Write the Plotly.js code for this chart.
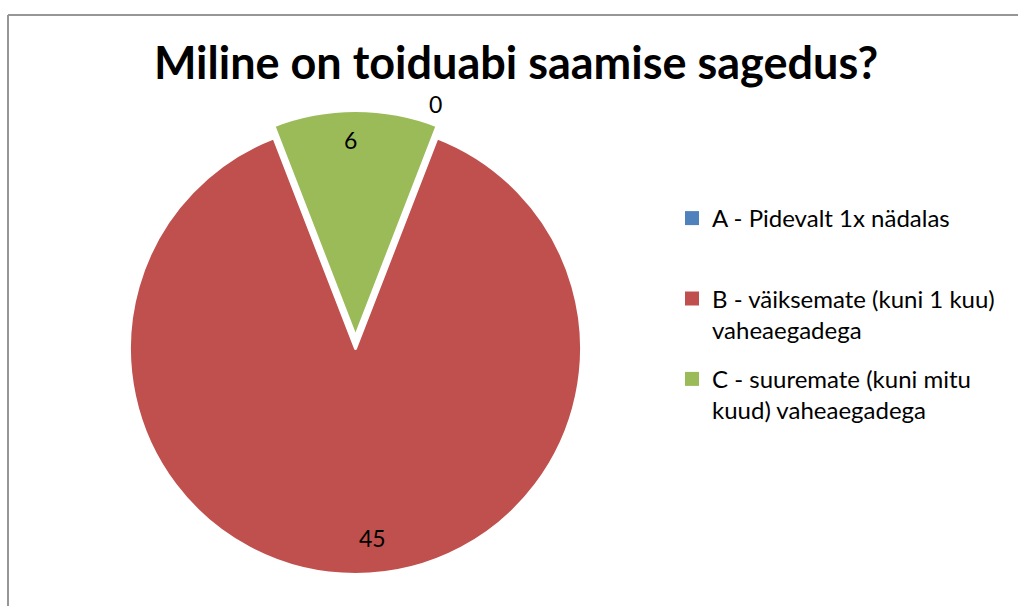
<!DOCTYPE html>
<html>
<head>
<meta charset="utf-8">
<script src="https://cdn.plot.ly/plotly-3.0.1.min.js"></script>
<style>
html,body{margin:0;padding:0;background:#fff;}
#chart{width:1018px;height:606px;}
</style>
</head>
<body>
<div id="chart"></div>
<script>
var titleText = "Miline on toiduabi saamise sagedus?";
var categories = [
  "A - Pidevalt 1x nädalas",
  "B - väiksemate (kuni 1 kuu) vaheaegadega",
  "C - suuremate (kuni mitu kuud) vaheaegadega"
];
var legendLabels = [
  "A - Pidevalt 1x nädalas<br> ",
  "B - väiksemate (kuni 1 kuu)<br>vaheaegadega",
  "C - suuremate (kuni mitu<br>kuud) vaheaegadega"
];
var values = [0, 45, 6];
var colors = ["#4F81BD", "#C0504D", "#9BBB59"];

// ---- geometry / style (not data) ----
var W = 1018, H = 606;
var cx = 355.5, cy = 348.5, R = 226;
var pulls = [0, 0, 0.053];
var labelRadius = [1.14, 0.84, 0.87];
var labelAngleNudge = [-3, -5, -1.5];
var FONT = "Lato, sans-serif";

var total = values.reduce(function(a, b) { return a + b; }, 0);
var startRotation = (values[2] / total) * 360 / 2;
var maxPull = Math.max.apply(null, pulls);
var half = R * (1 + maxPull);

var pieTrace = {
  type: "pie",
  labels: categories,
  values: values,
  sort: false,
  direction: "clockwise",
  rotation: startRotation,
  pull: pulls,
  marker: {colors: colors, line: {color: "#ffffff", width: 3}},
  textinfo: "none",
  automargin: false,
  showlegend: false,
  hoverinfo: "label+value",
  domain: {
    x: [(cx - half) / W, (cx + half) / W],
    y: [(H - cy - half) / H, (H - cy + half) / H]
  }
};

// legend entries, one per category
var legendTraces = categories.map(function(c, i) {
  return {
    type: "scatter", mode: "markers",
    x: [null], y: [null],
    name: legendLabels[i],
    legendgroup: "g" + i,
    marker: {symbol: "square", size: 14, color: colors[i]},
    hoverinfo: "skip"
  };
});

// data labels placed from the slice angles
var annotations = [];
var cum = 0;
for (var i = 0; i < values.length; i++) {
  var startA = startRotation + cum / total * 360;
  var midA = startA + values[i] / total * 180 + labelAngleNudge[i];
  cum += values[i];
  var rad = midA * Math.PI / 180;
  var pullShift = pulls[i] * R;
  var midRad = (startA + values[i] / total * 180) * Math.PI / 180;
  var ccx = cx + pullShift * Math.sin(midRad);
  var ccy = cy - pullShift * Math.cos(midRad);
  var px = ccx + labelRadius[i] * R * Math.sin(rad);
  var py = ccy - labelRadius[i] * R * Math.cos(rad);
  annotations.push({
    xref: "paper", yref: "paper",
    x: px / W, y: 1 - py / H,
    xanchor: "center", yanchor: "middle",
    text: String(values[i]),
    showarrow: false,
    font: {family: FONT, size: 23, color: "#000000"}
  });
}

var layout = {
  width: W, height: H,
  margin: {l: 0, r: 0, t: 0, b: 0},
  paper_bgcolor: "#ffffff",
  plot_bgcolor: "#ffffff",
  xaxis: {visible: false, range: [0, 1]},
  yaxis: {visible: false, range: [0, 1]},
  title: {
    text: "<b>" + titleText + "</b>",
    font: {family: FONT, size: 45, color: "#000000"},
    x: 516 / W, xanchor: "center",
    y: 1 - 63 / H, yanchor: "middle",
    xref: "paper", yref: "paper"
  },
  showlegend: true,
  legend: {
    x: 672 / W, xanchor: "left",
    y: 1 - 196 / H, yanchor: "top",
    valign: "top",
    traceorder: "grouped",
    tracegroupgap: 15,
    font: {family: FONT, size: 24, color: "#000000"},
    bgcolor: "rgba(0,0,0,0)",
    itemclick: false
  },
  annotations: annotations,
  shapes: [
    {type: "line", xref: "paper", yref: "paper",
     x0: 8 / W, x1: 1, y0: 1 - 15 / H, y1: 1 - 15 / H,
     line: {color: "#969696", width: 2}},
    {type: "line", xref: "paper", yref: "paper",
     x0: 8 / W, x1: 8 / W, y0: 1 - 15 / H, y1: 0,
     line: {color: "#969696", width: 2}}
  ]
};

Plotly.newPlot("chart", [pieTrace].concat(legendTraces), layout, {displayModeBar: false, staticPlot: true});
</script>
</body>
</html>
